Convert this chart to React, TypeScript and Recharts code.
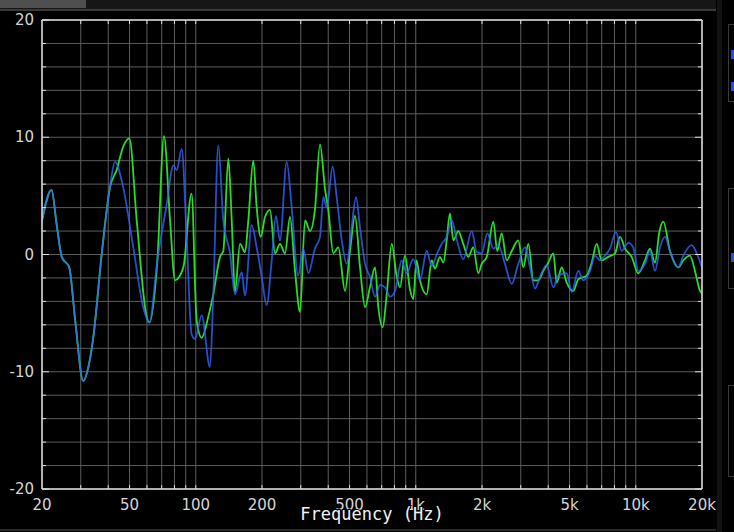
import React from "react";
import { LineChart, Line, XAxis, YAxis, CartesianGrid } from "recharts";

// shared low-frequency part (both channels overlap here)
const sharedHz = [20, 22.1, 23.3, 24.6, 26.6, 28.3, 30.8, 32.5, 34.2, 37.4, 40.7];
const sharedDb = [2.9, 5.5, 2.6, -0.2, -1.1, -5.6, -10.8, -9.6, -7.1, 0.1, 5.7];

const blueHz = [
  42.9, 46.8, 52.0, 57.7, 61.5, 66.9, 73.8, 79.1, 81.9, 86.3, 90.9, 95.7, 99.2, 106.4, 116, 120.1,
  126.6, 133.4, 143.1, 150.7, 161.7, 167.4, 179.5, 189.2, 199.4, 210, 221.4, 231.5, 241.4, 259, 273,
  292, 308, 325, 348, 367, 380, 394, 419, 437, 461, 485, 511, 535, 558, 588, 619, 653, 688, 725, 764,
  805, 863, 909, 974, 1045, 1121, 1182, 1245, 1312, 1382, 1457, 1535, 1644, 1797, 1893, 1994, 2115,
  2252, 2372, 2544, 2729, 2924, 3137, 3306, 3484, 3671, 3936, 4220, 4446, 4853, 5115, 5480, 5775,
  6194, 6527, 6877, 7246, 7636, 8128, 8630, 9247, 9744, 10268, 11016, 11604, 12228, 12885, 13580,
  14306, 15600, 16444, 17950, 18918, 20000,
];
const blueDb = [
  7.9, 5.7, 0.6, -4.5, -5.8, -0.5, 4.3, 7.6, 7.2, 9.0, 1.5, -6.8, -7.2, -5.2, -9.6, -3.6,
  9.3, 2.9, 0.1, -3.4, -1.5, -3.5, 2.5, 0.6, -1.9, -4.3, -0.5, 3.3, 1.2, 7.9, 4.0,
  -1.8, 0.5, -1.6, 0.5, 1.5, 4.9, 4.0, 7.5, 4.9, 1.2, -0.8, 2.3, 4.9, 2.3, -0.8, -1.9, -3.6, -2.6, -2.8, -3.6,
  -3.1, -0.5, -1.6, -0.4, -2.2, 0.3, -1.0, 0.0, 0.9, 1.5, 2.9, 1.3, -0.4, 2.0, 0.2, 0.1, 1.8,
  0.5, 0.8, -0.8, -2.5, -0.8, 0.6, -1.1, -2.9, -1.9, -0.9, -2.8, -1.8, -1.6, -3.2, -1.4, -2.2,
  -1.4, -0.1, -0.5, -0.1, 0.5, 1.9, 0.3, 1.0, 0.6, -1.4, -0.8, 0.3, -1.4, 0.6, 1.5,
  0.3, -1.1, -0.1, 0.8, 0.1, -1.1,
];

const greenHz = [
  43.7, 46.8, 49.9, 53.9, 59.8, 61.5, 66.9, 71.7, 76.4, 80.5, 87.8, 95.7, 100.9, 106.4, 114, 120.1,
  128.9, 133.4, 140.6, 145.7, 150.7, 158.9, 167.4, 173.3, 182.6, 189.2, 197.3, 206.4, 217.5, 229.2,
  241.4, 254.4, 268.2, 282.6, 297.8, 313.8, 330.7, 348, 367, 386.7, 400.3, 421.8, 444.6, 476.7, 502.4,
  529.5, 558, 588, 619, 653, 675.7, 707.6, 737.8, 777.5, 819.4, 847.8, 893.4, 941.5, 974, 1008, 1045,
  1121, 1182, 1222, 1288, 1334, 1382, 1430, 1481, 1560, 1644, 1732, 1826, 1924, 1994, 2102, 2252,
  2347, 2458, 2590, 2729, 2924, 3083, 3249, 3423, 3606, 3800, 4000, 4220, 4372, 4607, 4853, 5200,
  5480, 5984, 6304, 6641, 6998, 7500, 8046, 8479, 8934, 9578, 10268, 11016, 11604, 12228, 12792,
  13336, 14306, 15600, 16444, 17632, 18582, 19582, 20000,
];
const greenDb = [
  7.2, 9.2, 9.9, 2.9, -5.3, -5.8, -0.5, 10.1, 2.9, -2.2, -1.1, 5.2, -5.6, -7.1, -5.3, -3.4,
  -0.2, 0.3, 8.2, 2.9, -3.2, 0.9, 0.2, 2.9, 8.0, 4.0, 1.5, 3.2, 3.8, 0.1,
  0.9, 0.1, 3.2, -1.4, -4.9, 2.9, 2.0, 3.8, 9.4, 5.6, 3.8, 0.1, 0.6, -3.1, 0.3,
  3.3, -1.1, -4.5, -2.8, -1.1, -4.5, -6.2, -3.4, 0.9, -1.9, -2.8, -0.1, -3.0, -3.8, -0.5, -2.2,
  -3.4, -0.5, -1.2, -0.2, -0.7, 1.2, 3.5, 1.2, 2.0, 0.9, -0.2, 0.6, -1.6, -0.8, -0.2, 2.8,
  0.3, 1.8, -0.5, 0.3, 1.2, -1.1, 0.9, -2.2, -2.2, -1.4, -0.7, 0.1, -2.4, -1.1, -2.4, -3.1,
  -2.1, -1.8, -0.7, 0.9, -0.5, -0.2, 0.1, 1.5, 0.5, -0.2, -1.6, -0.5, 0.5, -0.7, 1.9,
  2.8, 0.3, -1.1, -0.5, -0.1, -1.4, -3.1, -3.3,
];

const freqTicks = [
  20, 30, 40, 50, 60, 70, 80, 90, 100, 200, 300, 400, 500, 600, 700, 800, 900, 1000, 2000, 3000,
  4000, 5000, 6000, 7000, 8000, 9000, 10000, 20000,
];
const freqLabels: Record<number, string> = {
  20: "20", 50: "50", 100: "100", 200: "200", 500: "500", 1000: "1k", 2000: "2k", 5000: "5k",
  10000: "10k", 20000: "20k",
};
const dbTicks = [-20, -18, -16, -14, -12, -10, -8, -6, -4, -2, 0, 2, 4, 6, 8, 10, 12, 14, 16, 18, 20];
const dbLabels = [-20, -10, 0, 10, 20];

const toPoints = (hz: number[], db: number[]) => hz.map((f, i) => ({ f, db: db[i] }));
const blueData = toPoints([...sharedHz, ...blueHz], [...sharedDb, ...blueDb]);
const greenData = toPoints([...sharedHz, ...greenHz], [...sharedDb, ...greenDb]);

const FRAME = "#dcdcdc";
const TEXT = "#d6d6d6";
const FONT = "DejaVu Sans, sans-serif";

const BottomTick = (props: any) => {
  const { x, y, payload } = props;
  const v = payload.value;
  const edge = v === 20 || v === 20000;
  return (
    <g>
      {!edge && <line x1={x} y1={y} x2={x} y2={y - 4} stroke={FRAME} strokeWidth={1} />}
      {freqLabels[v] && (
        <text x={x} y={y + 21} textAnchor="middle" fill={TEXT} fontSize={15} fontFamily={FONT}>
          {freqLabels[v]}
        </text>
      )}
    </g>
  );
};

const TopTick = (props: any) => {
  const { x, y, payload } = props;
  const v = payload.value;
  if (v === 20 || v === 20000) return <g />;
  return <line x1={x} y1={y} x2={x} y2={y + 4} stroke={FRAME} strokeWidth={1} />;
};

const LeftTick = (props: any) => {
  const { x, y, payload } = props;
  const v = payload.value;
  const len = v % 10 === 0 ? 7 : 4;
  return (
    <g>
      <line x1={x} y1={y} x2={x + len} y2={y} stroke={FRAME} strokeWidth={1} />
      {dbLabels.includes(v) && (
        <text x={x - 8} y={y + 5} textAnchor="end" fill={TEXT} fontSize={15} fontFamily={FONT}>
          {v}
        </text>
      )}
    </g>
  );
};

const RightTick = (props: any) => {
  const { x, y, payload } = props;
  const len = payload.value % 10 === 0 ? 7 : 4;
  return <line x1={x} y1={y} x2={x - len} y2={y} stroke={FRAME} strokeWidth={1} />;
};

export default function App() {
  return (
    <div
      style={{
        position: "fixed",
        left: 0,
        top: 0,
        width: 734,
        height: 532,
        background: "#000",
        overflow: "hidden",
      }}
    >
      {/* window chrome fragments */}
      <div style={{ position: "absolute", left: 0, top: 0, width: 716, height: 9, background: "#161616" }} />
      <div style={{ position: "absolute", left: 0, top: 0, width: 86, height: 8, background: "#4f4f4f" }} />
      <div style={{ position: "absolute", left: 0, top: 9, width: 716, height: 2, background: "#3a3a3a" }} />
      <div style={{ position: "absolute", left: 717, top: 0, width: 5, height: 532, background: "#121212" }} />
      <div style={{ position: "absolute", left: 728, top: 24, width: 20, height: 76, border: "1px solid #3a3a3a" }} />
      <div style={{ position: "absolute", left: 728, top: 188, width: 20, height: 99, border: "1px solid #3a3a3a" }} />
      <div style={{ position: "absolute", left: 728, top: 385, width: 20, height: 90, border: "1px solid #3a3a3a" }} />
      <div style={{ position: "absolute", left: 731, top: 50, width: 4, height: 9, background: "#1d4fd8" }} />
      <div style={{ position: "absolute", left: 731, top: 82, width: 4, height: 9, background: "#1d4fd8" }} />
      <div style={{ position: "absolute", left: 731, top: 253, width: 4, height: 9, background: "#1d4fd8" }} />
      <div style={{ position: "absolute", left: 0, top: 529, width: 716, height: 2, background: "#2a2a2a" }} />

      <LineChart
        width={734}
        height={532}
        margin={{ top: 0, right: 0, bottom: 0, left: 0 }}
        style={{ position: "absolute", left: 0, top: 0 }}
      >
        <CartesianGrid xAxisId="b" yAxisId="l" stroke="#5c5c5c" strokeWidth={1} />
        <XAxis
          xAxisId="b"
          dataKey="f"
          type="number"
          scale="log"
          domain={[20, 20000]}
          ticks={freqTicks}
          allowDataOverflow
          height={43}
          tickSize={0}
          tickMargin={0}
          axisLine={{ stroke: FRAME, strokeWidth: 1.5 }}
          tickLine={false}
          tick={<BottomTick />}
          interval={0}
          label={{
            value: "Frequency (Hz)",
            position: "insideTop",
            offset: 19,
            fill: "#f2f2f2",
            fontSize: 17,
            fontFamily: "DejaVu Sans Mono, monospace",
            stroke: "#000",
            strokeWidth: 2,
            paintOrder: "stroke",
          }}
        />
        <XAxis
          xAxisId="t"
          orientation="top"
          dataKey="f"
          type="number"
          scale="log"
          domain={[20, 20000]}
          ticks={freqTicks}
          allowDataOverflow
          height={20}
          tickSize={0}
          tickMargin={0}
          axisLine={{ stroke: FRAME, strokeWidth: 1.5 }}
          tickLine={false}
          tick={<TopTick />}
          interval={0}
        />
        <YAxis
          yAxisId="l"
          type="number"
          domain={[-20, 20]}
          ticks={dbTicks}
          allowDataOverflow
          width={42}
          tickSize={0}
          tickMargin={0}
          axisLine={{ stroke: FRAME, strokeWidth: 1.5 }}
          tickLine={false}
          tick={<LeftTick />}
          interval={0}
        />
        <YAxis
          yAxisId="r"
          orientation="right"
          type="number"
          domain={[-20, 20]}
          ticks={dbTicks}
          allowDataOverflow
          width={32}
          tickSize={0}
          tickMargin={0}
          axisLine={{ stroke: FRAME, strokeWidth: 1.5 }}
          tickLine={false}
          tick={<RightTick />}
          interval={0}
        />
        <Line
          xAxisId="b"
          yAxisId="l"
          data={greenData}
          dataKey="db"
          type="monotone"
          stroke="#24e024"
          strokeWidth={1.8}
          dot={false}
          isAnimationActive={false}
        />
        <Line
          xAxisId="b"
          yAxisId="l"
          data={blueData}
          dataKey="db"
          type="monotone"
          stroke="#2f63ff"
          strokeOpacity={0.8}
          strokeWidth={1.8}
          dot={false}
          isAnimationActive={false}
        />
      </LineChart>
    </div>
  );
}
